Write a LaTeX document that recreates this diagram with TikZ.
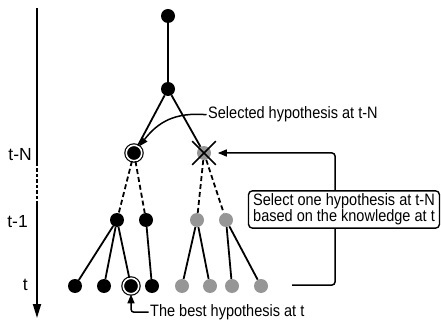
\documentclass[tikz,border=0pt]{standalone}
\usepackage{fontspec}
\setmainfont{Liberation Sans}
\newfontfamily\narrowsans[FakeStretch=0.88]{Liberation Sans}
\usetikzlibrary{arrows.meta,shapes.misc}
\definecolor{hgray}{RGB}{150,150,150}
\begin{document}
\begin{tikzpicture}[x=1pt,y=-1pt,
  font=\narrowsans\fontsize{16.5}{16}\selectfont,
  blk/.style={circle,fill=black,inner sep=0pt,minimum size=14pt},
  gry/.style={circle,fill=hgray,inner sep=0pt,minimum size=14pt},
  ringed/.style={circle,fill=black,inner sep=0pt,minimum size=15.5pt,draw=black,line width=1.2pt,double=white,double distance=1.6pt},
  xmk/.style={cross out,draw=black,line width=1.6pt,inner sep=0pt,minimum size=22pt},
  edge/.style={line width=1.8pt},
  dedge/.style={line width=1.8pt,dash pattern=on 5pt off 3pt},
  ann/.style={line width=1.5pt,-{Triangle[length=9pt,width=7pt]},rounded corners=3pt},
  lbl/.style={inner sep=1.5pt},
  axlbl/.style={inner sep=0pt,font=\rmfamily\fontsize{17.5}{18}\selectfont},
  boxnode/.style={draw=black,line width=1.4pt,rounded corners=4pt,align=center,minimum width=191pt,minimum height=37pt,inner sep=3pt}
]
\useasboundingbox (0,0) rectangle (441,320);
% time axis
\coordinate (ax0) at (37,8);
\coordinate (ax1) at (37,163);
\coordinate (ax2) at (37,203);
\coordinate (ax3) at (37,318);
\draw[line width=1.8pt] (ax0) -- (ax1);
\draw[line width=1.8pt,dash pattern=on 3.5pt off 2pt] (ax1) -- (ax2);
\draw[line width=1.8pt,-{Triangle[length=14pt,width=8pt]}] (ax2) -- (ax3);
\node[axlbl,anchor=base east] (ltN) at (32,161) {t-N};
\node[axlbl,anchor=base east] (lt1) at (28,227) {t-1};
\node[axlbl,anchor=base east] (lt) at (28,290) {t};
% nodes
\node[blk] (r) at (168,16) {};
\node[blk] (a) at (168,89) {};
\node[ringed] (s) at (134,153) {};
\node[gry] (c) at (204,153) {};
\node[xmk] (x) at (204,153) {};
\node[blk] (b1) at (117,220) {};
\node[blk] (b2) at (146,220) {};
\node[gry] (g1) at (197,220) {};
\node[gry] (g2) at (226,220) {};
\node[blk] (t1) at (75,286) {};
\node[blk] (t2) at (104,286) {};
\node[ringed] (t3) at (131,286) {};
\node[blk] (t4) at (152,286) {};
\node[gry] (t5) at (182,286) {};
\node[gry] (t6) at (210,286) {};
\node[gry] (t7) at (232,286) {};
\node[gry] (t8) at (261,286) {};
% edges
\draw[edge] (r) -- (a);
\draw[edge] (a) -- (s);
\draw[edge] (a) -- (c);
\draw[dedge] (s) -- (b1);
\draw[dedge] (s) -- (b2);
\draw[dedge] (c) -- (g1);
\draw[dedge] (c) -- (g2);
\draw[edge] (b1) -- (t1);
\draw[edge] (b1) -- (t2);
\draw[edge] (b1) -- (t3);
\draw[edge] (b2) -- (t4);
\draw[edge] (g1) -- (t5);
\draw[edge] (g1) -- (t6);
\draw[edge] (g2) -- (t7);
\draw[edge] (g2) -- (t8);
% annotations
\node[lbl,anchor=base west] (lsel) at (206.5,119) {Selected hypothesis at t-N};
\draw[ann] (lsel.west) .. controls (175,112) and (158,122) .. (s);
\node[boxnode] (box) at (344,209.5) {Select one hypothesis at t-N\\based on the knowledge at t};
\coordinate (bk) at (335,153);
\coordinate (bend) at (292,285);
\draw[ann,shorten >=2pt] (box.north -| bk) |- (x);
\draw[line width=1.5pt,rounded corners=3pt] (box.south -| bk) |- (bend);
\node[lbl,anchor=base west] (lbest) at (148.5,316.5) {The best hypothesis at t};
\draw[ann] (lbest.west) -| (t3);
\end{tikzpicture}
\end{document}
